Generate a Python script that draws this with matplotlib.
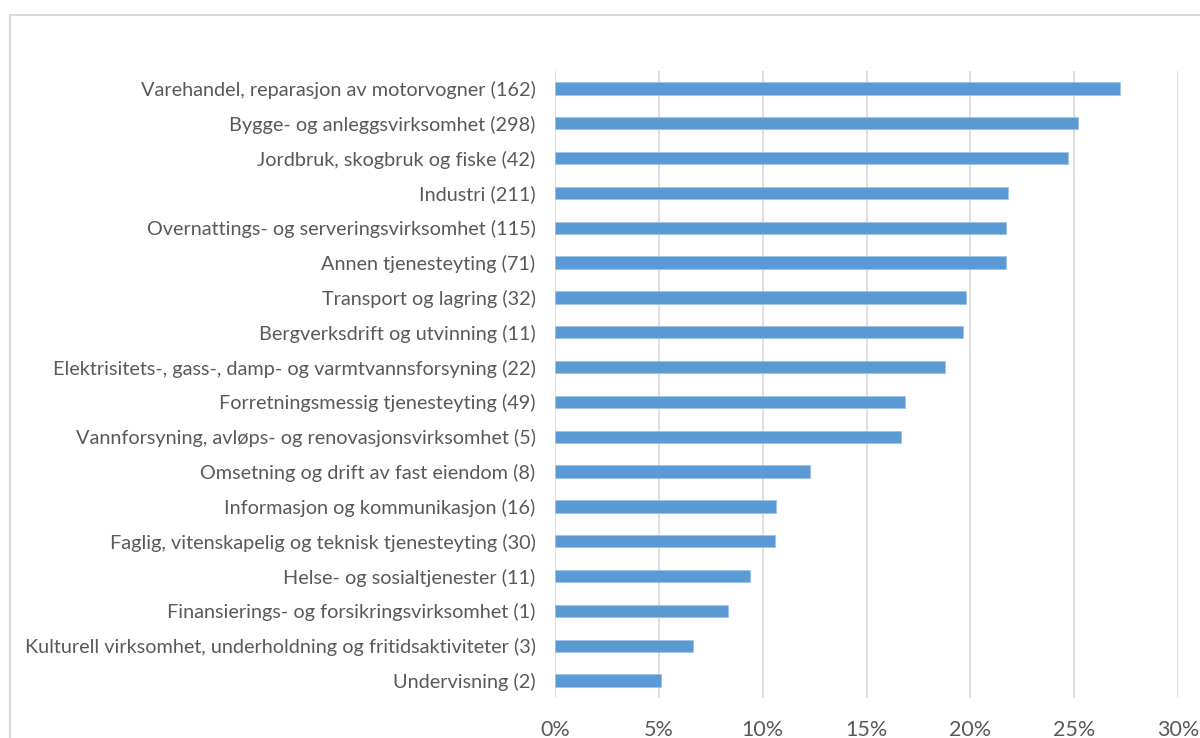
import numpy as np
import matplotlib
matplotlib.use("Agg")
import matplotlib.pyplot as plt
from matplotlib.patches import Rectangle
from matplotlib.ticker import FuncFormatter

# Næringer (antall) og andel, lest av figuren
categories = [
    "Varehandel, reparasjon av motorvogner (162)",
    "Bygge- og anleggsvirksomhet (298)",
    "Jordbruk, skogbruk og fiske (42)",
    "Industri (211)",
    "Overnattings- og serveringsvirksomhet (115)",
    "Annen tjenesteyting (71)",
    "Transport og lagring (32)",
    "Bergverksdrift og utvinning (11)",
    "Elektrisitets-, gass-, damp- og varmtvannsforsyning (22)",
    "Forretningsmessig tjenesteyting (49)",
    "Vannforsyning, avløps- og renovasjonsvirksomhet (5)",
    "Omsetning og drift av fast eiendom (8)",
    "Informasjon og kommunikasjon (16)",
    "Faglig, vitenskapelig og teknisk tjenesteyting (30)",
    "Helse- og sosialtjenester (11)",
    "Finansierings- og forsikringsvirksomhet (1)",
    "Kulturell virksomhet, underholdning og fritidsaktiviteter (3)",
    "Undervisning (2)",
]
shares = [27.2, 25.2, 24.7, 21.8, 21.74, 21.72, 19.77, 19.65, 18.8,
          16.83, 16.65, 12.3, 10.66, 10.6, 9.4, 8.32, 6.64, 5.12]
x_ticks = [0, 5, 10, 15, 20, 25, 30]

plt.rcParams['font.family'] = ['Lato', 'DejaVu Sans']

fig = plt.figure(figsize=(12, 7.38), dpi=100)
ax = fig.add_axes([0.4625, 0.0542, 0.5192, 0.8496])

# chart frame (only left and top visible in the crop)
fig.patches.append(Rectangle((10 / 1200, -0.1), 1.2, 1 - 15 / 738 + 0.1,
                             transform=fig.transFigure, fill=False,
                             edgecolor='#d9d9d9', linewidth=1.5))

y = np.arange(len(categories))
ax.barh(y, shares, height=0.35, color='#5b9bd5', edgecolor='#9dc3e6',
        linewidth=0.6, zorder=3)
ax.set_ylim(len(categories) - 0.5, -0.5)
ax.set_xlim(0, 30)
ax.set_yticks(y)
ax.set_yticklabels(categories)
ax.set_xticks(x_ticks)
ax.xaxis.set_major_formatter(FuncFormatter(lambda v, p: f"{v:.0f}%"))

ax.grid(axis='x', color='#d9d9d9', linewidth=1.2, zorder=0)
for s in ax.spines.values():
    s.set_visible(False)
ax.tick_params(axis='both', length=0, colors='#595959')
ax.tick_params(axis='y', labelsize=14.3, pad=14)
ax.tick_params(axis='x', labelsize=15.5, pad=16)

fig.savefig("out.png", dpi=100)
